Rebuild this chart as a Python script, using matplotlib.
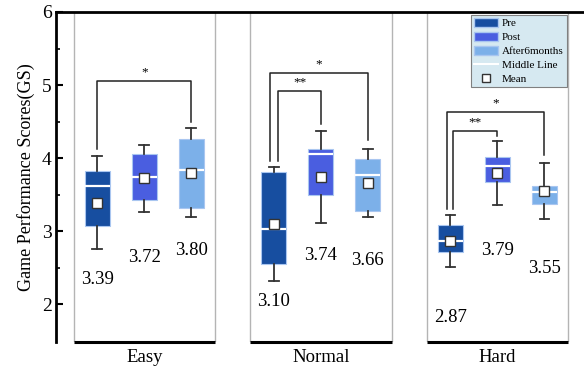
import matplotlib
matplotlib.use("Agg")
import matplotlib.pyplot as plt
from matplotlib.patches import Patch, Rectangle
from matplotlib.lines import Line2D

plt.rcParams['font.family'] = ['Liberation Serif', 'DejaVu Serif']

groups = ["Easy", "Normal", "Hard"]
series = ["Pre", "Post", "After6months"]
colors = ["#174ea0", "#4a5ee0", "#7cb0e9"]

# per group, per series: whisker low, q1, median, q3, whisker high, mean
whislo = [[2.75, 3.26, 3.19], [2.32, 3.11, 3.19], [2.51, 3.35, 3.16]]
q1 = [[3.07, 3.43, 3.32], [2.55, 3.50, 3.28], [2.71, 3.67, 3.37]]
med = [[3.61, 3.74, 3.83], [3.03, 4.05, 3.77], [2.87, 3.89, 3.53]]
q3 = [[3.82, 4.06, 4.26], [3.81, 4.13, 3.98], [3.08, 4.01, 3.61]]
whishi = [[4.03, 4.18, 4.41], [3.88, 4.37, 4.13], [3.22, 4.23, 3.93]]
means = [[3.39, 3.72, 3.80], [3.10, 3.74, 3.66], [2.87, 3.79, 3.55]]
mean_label_y = [[2.34, 2.64, 2.73], [2.03, 2.66, 2.59], [1.81, 2.73, 2.48]]

# significance brackets: group, from series, to series, top y, left leg end, right leg end, text
sig_group = [0, 1, 1, 2, 2]
sig_from = [0, 0, 0, 0, 0]
sig_to = [2, 2, 1, 2, 1]
sig_top = [5.05, 5.16, 4.92, 4.63, 4.37]
sig_left = [4.12, 3.96, 3.96, 3.30, 3.30]
sig_right = [4.50, 4.24, 4.47, 4.04, 4.30]
sig_text = ["*", "*", "**", "*", "**"]
sig_leftshift = [0.0, -0.02, 0.025, -0.02, 0.012]

fig = plt.figure(figsize=(5.84, 3.68), dpi=100)
ax = fig.add_axes([56/584, 26/368, 528/584, 330/368])
ax.set_xlim(-0.5, 2.49)
ax.set_ylim(1.48, 6.0)

offset = 0.266
bw = 0.142

for g in range(3):
    ax.add_patch(Rectangle((g - 0.4, 1.48), 0.8, 6.0 - 1.48, fill=False,
                           edgecolor="#b4b4b4", lw=1.0, zorder=0.5))
    ax.plot([g - 0.4, g + 0.4], [1.48, 1.48], color="black", lw=2.2,
            clip_on=False, zorder=5, solid_capstyle="butt")
    stats = []
    pos = []
    for s in range(3):
        stats.append(dict(whislo=whislo[g][s], q1=q1[g][s], med=med[g][s],
                          q3=q3[g][s], whishi=whishi[g][s], mean=means[g][s],
                          fliers=[]))
        pos.append(g + (s - 1) * offset)
    bp = ax.bxp(stats, positions=pos, widths=bw, patch_artist=True,
                showmeans=True, showfliers=False,
                whiskerprops=dict(color="#333333", lw=1.3),
                capprops=dict(color="#333333", lw=1.3),
                medianprops=dict(color="white", lw=1.6),
                meanprops=dict(marker="s", markerfacecolor="white",
                               markeredgecolor="#333333", markersize=6.5,
                               markeredgewidth=1.0),
                capwidths=0.055, manage_ticks=False)
    for s, box in enumerate(bp["boxes"]):
        box.set_facecolor(colors[s])
        box.set_edgecolor("#a9c6f0")
        box.set_linewidth(0.8)
    for s in range(3):
        ax.text(pos[s], mean_label_y[g][s], f"{means[g][s]:.2f}",
                ha="center", va="center", fontsize=13.5)

for k in range(len(sig_group)):
    g = sig_group[k]
    x1 = g + (sig_from[k] - 1) * offset + sig_leftshift[k]
    x2 = g + (sig_to[k] - 1) * offset
    ax.plot([x1, x1, x2, x2], [sig_left[k], sig_top[k], sig_top[k], sig_right[k]],
            color="#222222", lw=1.1, zorder=4)
    ax.text((x1 + x2) / 2, sig_top[k] + 0.04, sig_text[k], ha="center",
            va="bottom", fontsize=9.5)

ax.spines["right"].set_visible(False)
ax.spines["bottom"].set_visible(False)
ax.spines["left"].set_linewidth(2.0)
ax.spines["top"].set_linewidth(2.0)
ax.set_yticks([2, 3, 4, 5, 6])
ax.set_yticks([2.5, 3.5, 4.5, 5.5], minor=True)
ax.tick_params(axis="y", direction="in", length=5, width=1.5, labelsize=14, pad=3)
ax.tick_params(axis="y", which="minor", direction="in", length=3, width=1.2)
ax.set_xticks([0, 1, 2])
ax.set_xticklabels(groups, fontsize=13.5)
ax.tick_params(axis="x", length=0, pad=5)
ax.set_ylabel("Game Performance Scores(GS)", fontsize=13, labelpad=5)

handles = [Patch(facecolor=colors[i], edgecolor="#a9c6f0", label=series[i]) for i in range(3)]
handles.append(Line2D([], [], color="white", lw=1.5, label="Middle Line"))
handles.append(Line2D([], [], marker="s", ls="none", markerfacecolor="white",
                      markeredgecolor="#333333", markersize=5.5, label="Mean"))
leg = ax.legend(handles=handles, loc="upper right", bbox_to_anchor=(0.968, 0.992),
                fontsize=8, frameon=True, fancybox=False, framealpha=1,
                facecolor="#d6e9f1", edgecolor="#808080", labelspacing=0.31,
                handlelength=2.1, handleheight=0.9, handletextpad=0.4,
                borderpad=0.3, borderaxespad=0)
leg.get_frame().set_linewidth(0.8)

fig.savefig("out.png", dpi=100)
